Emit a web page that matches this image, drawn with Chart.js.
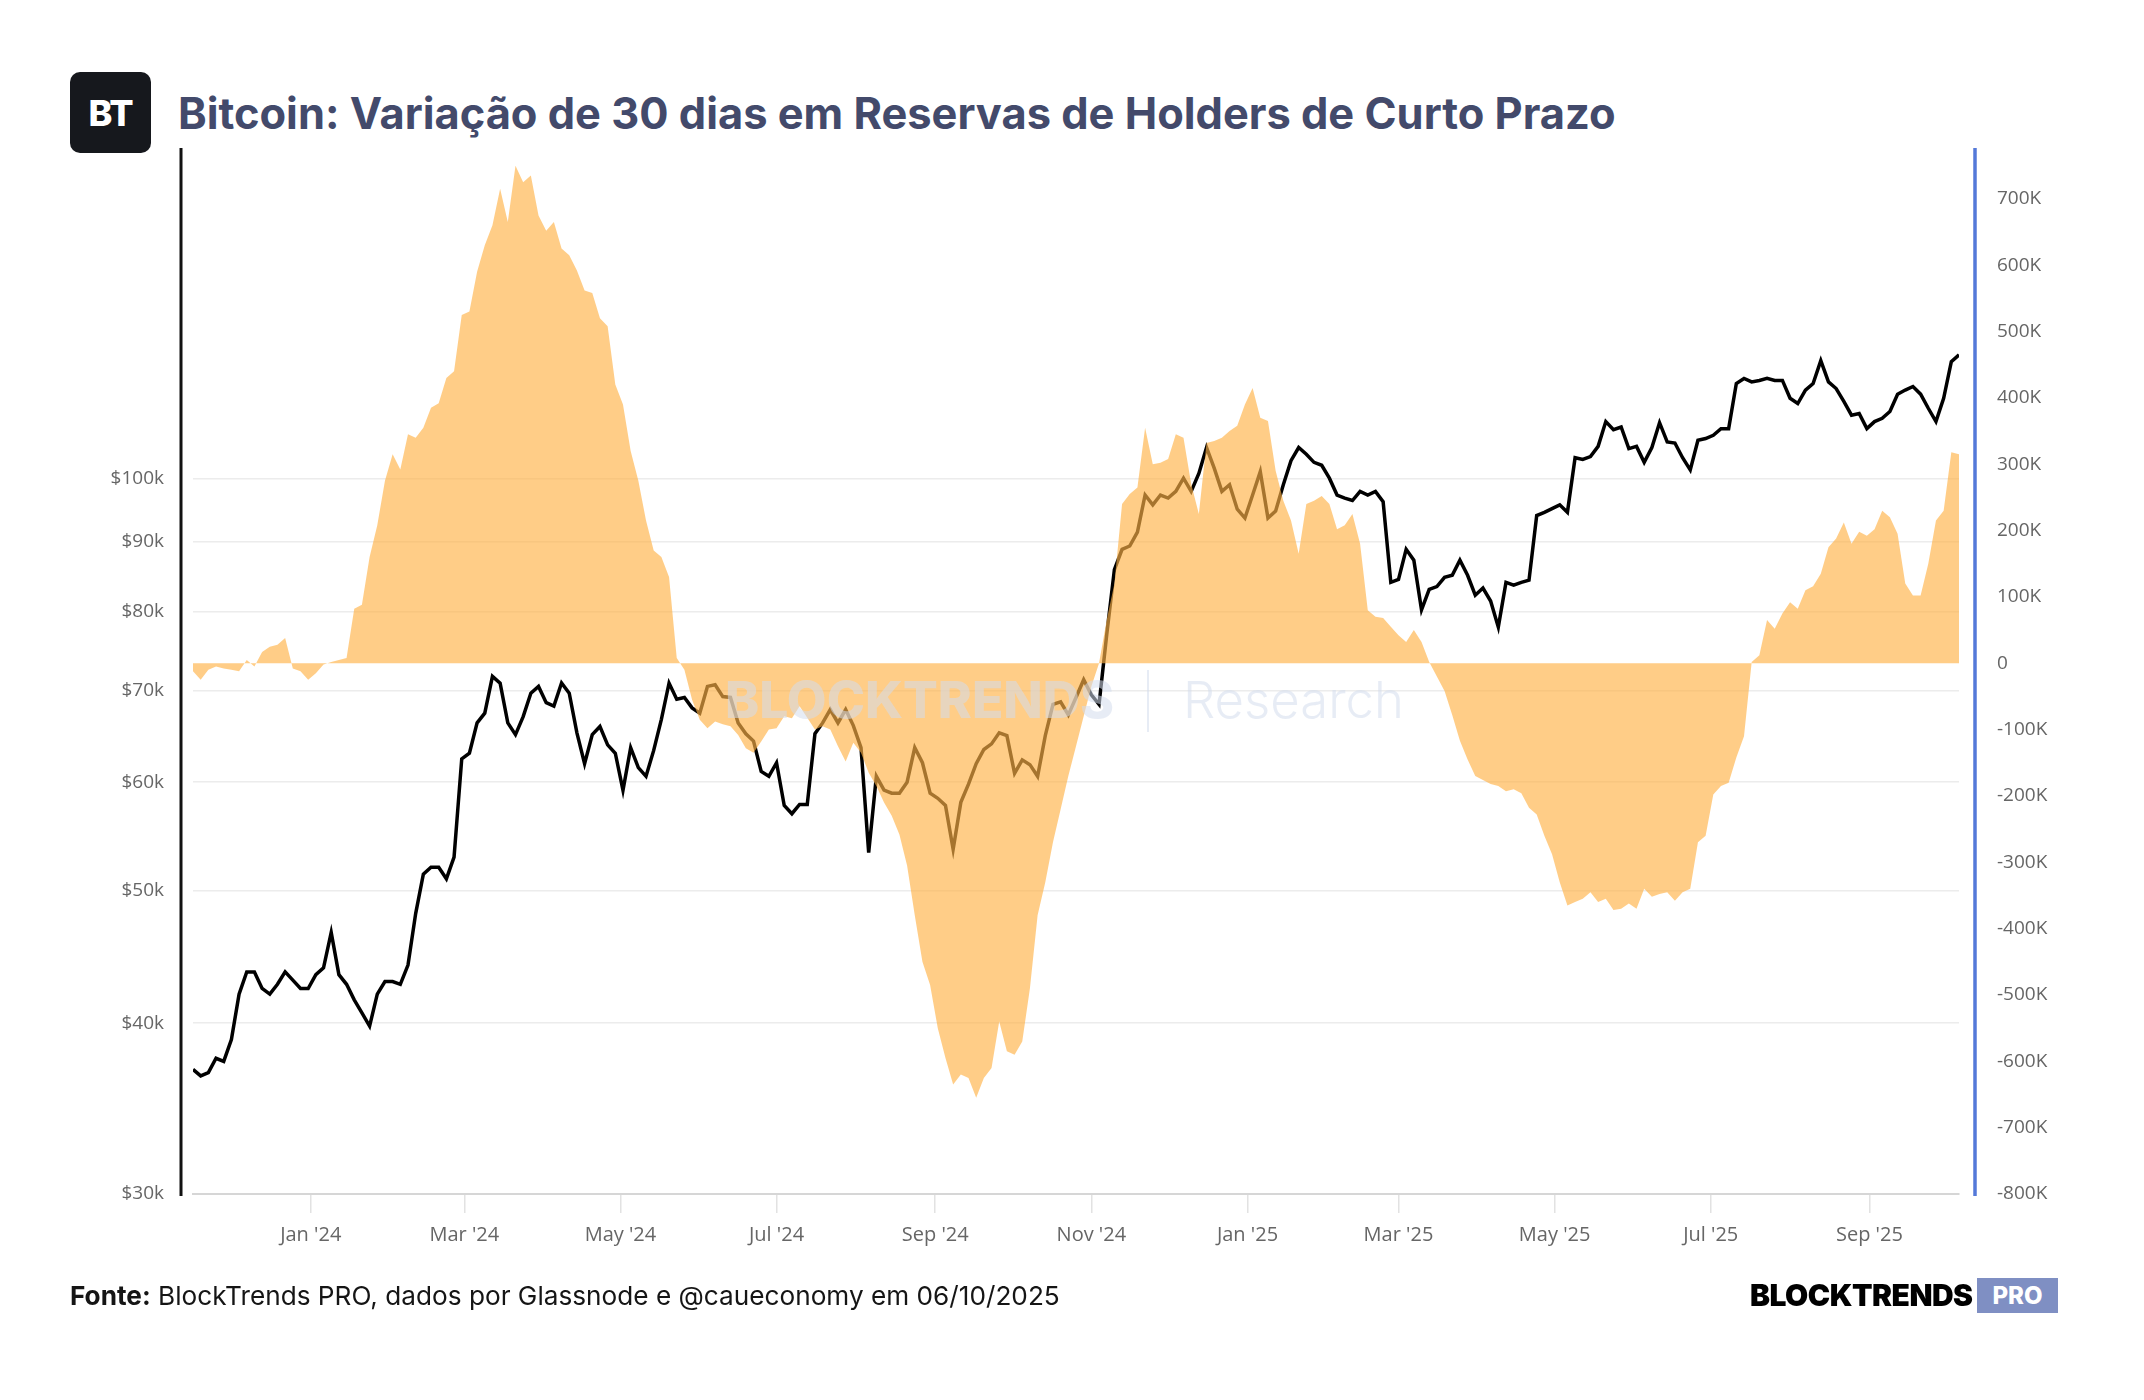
<!DOCTYPE html>
<html lang="pt-BR">
<head>
<meta charset="utf-8">
<title>Bitcoin: Variação de 30 dias em Reservas de Holders de Curto Prazo</title>
<script src="https://cdn.jsdelivr.net/npm/chart.js@4.4.0/dist/chart.umd.min.js"></script>
<style>
  html, body { margin: 0; padding: 0; background: #fff; }
  body { width: 2144px; height: 1400px; position: relative; overflow: hidden; font-family: Inter, "Noto Sans", sans-serif; }
  #grafico { position: absolute; left: 0; top: 0; }
  .logo-bt { position: absolute; left: 70px; top: 72px; width: 81px; height: 81px; border-radius: 10px; background: #16181d; color: #fff; font-weight: 800; font-size: 36px; display: flex; align-items: center; justify-content: center; letter-spacing: -1px; }
  .titulo { position: absolute; left: 178px; top: 113px; transform: translateY(-50%); font-size: 38px; font-weight: 700; color: #434a6b; white-space: nowrap; }
  .fonte { position: absolute; left: 70px; top: 1295px; transform: translateY(-50%); font-size: 26px; color: #151515; white-space: nowrap; }
  .fonte b { font-weight: 700; }
  .marca { position: absolute; left: 1750px; top: 1295px; transform: translateY(-50%); font-size: 27px; font-weight: 900; color: #000; white-space: nowrap; letter-spacing: -0.5px; }
  .pro { position: absolute; left: 1977px; top: 1278px; width: 81px; height: 35px; background: #7f8fc3; color: #fff; font-weight: 800; font-size: 24px; display: flex; align-items: center; justify-content: center; }
</style>
</head>
<body>
<div class="logo-bt">BT</div>
<div class="titulo" id="titulo">Bitcoin: Variação de 30 dias em Reservas de Holders de Curto Prazo</div>
<canvas id="grafico" width="2144" height="1400"></canvas>
<div class="fonte" id="fonte"><b>Fonte:</b> BlockTrends PRO, dados por Glassnode e @caueconomy em 06/10/2025</div>
<div class="marca" id="marca">BLOCKTRENDS</div>
<div class="pro">PRO</div>

<script>
// dados: um ponto a cada 3 dias, desde 16/11/2023
const inicioSerie = '2023-11-16';
const passoDias = 3;

// variacao de 30 dias nas reservas dos holders de curto prazo (mil BTC)
const reservasVar = [
  -12, -25, -10, -5, -8, -10, -12, 5, -5, 17,
  25, 28, 38, -8, -12, -25, -15, -2, 2, 5,
  8, 82, 88, 160, 208, 275, 315, 292, 345, 340,
  355, 385, 392, 430, 440, 525, 530, 590, 630, 660,
  715, 665, 750, 725, 735, 675, 652, 665, 625, 615,
  592, 562, 558, 520, 508, 420, 390, 320, 275, 215,
  170, 160, 130, 8, -10, -55, -85, -98, -88, -92,
  -95, -108, -128, -135, -118, -100, -98, -80, -83, -65,
  -82, -100, -95, -100, -125, -148, -120, -135, -165, -185,
  -210, -230, -258, -305, -380, -450, -485, -550, -595, -635,
  -620, -625, -655, -625, -610, -540, -585, -590, -570, -490,
  -380, -330, -270, -220, -170, -125, -80, -35, 0, 65,
  120, 240, 255, 265, 355, 300, 302, 308, 345, 340,
  270, 225, 332, 335, 340, 350, 358, 390, 415, 370,
  365, 290, 245, 215, 165, 240, 245, 252, 240, 202,
  208, 225, 180, 80, 70, 68, 55, 42, 32, 50,
  32, 2, -20, -42, -78, -117, -145, -170, -176, -182,
  -185, -193, -190, -196, -218, -228, -260, -288, -330, -365,
  -360, -355, -345, -360, -355, -372, -370, -362, -370, -340,
  -352, -348, -345, -358, -345, -340, -270, -260, -198, -185,
  -180, -142, -110, 2, 12, 65, 52, 75, 92, 82,
  110, 116, 135, 175, 188, 212, 180, 198, 192, 202,
  230, 220, 195, 120, 102, 102, 150, 215, 230, 318,
  315
];

// preco do bitcoin (mil US$)
const precoBTC = [
  37.0, 36.6, 36.8, 37.7, 37.5, 38.9, 42.0, 43.6, 43.6, 42.4,
  42.0, 42.7, 43.6, 43.0, 42.4, 42.4, 43.4, 43.9, 46.6, 43.4,
  42.7, 41.6, 40.7, 39.8, 42.0, 42.9, 42.9, 42.7, 44.1, 48.1,
  51.4, 52.0, 52.0, 51.0, 52.9, 62.4, 63.0, 66.3, 67.4, 71.7,
  70.9, 66.3, 65.0, 67.0, 69.7, 70.5, 68.6, 68.2, 70.9, 69.7,
  65.2, 61.9, 65.0, 65.9, 63.9, 63.0, 59.2, 63.6, 61.5, 60.6,
  63.3, 66.7, 70.9, 69.0, 69.2, 68.0, 67.4, 70.5, 70.7, 69.3,
  69.2, 66.3, 65.1, 64.3, 61.1, 60.6, 62.0, 57.7, 56.9, 57.8,
  57.8, 65.1, 66.3, 67.8, 66.3, 67.8, 66.0, 63.6, 53.3, 60.6,
  59.2, 58.9, 58.9, 60.0, 63.6, 62.0, 58.9, 58.4, 57.7, 53.6,
  58.0, 59.8, 61.9, 63.4, 64.0, 65.2, 64.9, 60.9, 62.3, 61.8,
  60.6, 64.9, 68.4, 68.7, 67.2, 69.2, 71.3, 69.5, 68.4, 76.9,
  85.8, 88.8, 89.3, 91.4, 97.3, 95.7, 97.3, 96.8, 97.9, 100.1,
  97.9, 100.9, 105.4, 101.8, 97.9, 99.0, 95.0, 93.6, 97.3, 101.2,
  93.6, 94.7, 99.0, 103.1, 105.4, 104.2, 102.8, 102.3, 100.1, 97.3,
  96.8, 96.4, 97.9, 97.3, 97.9, 96.2, 84.0, 84.4, 88.8, 87.2,
  80.2, 83.0, 83.4, 84.7, 85.0, 87.2, 85.0, 82.2, 83.2, 81.4,
  77.9, 84.0, 83.6, 84.0, 84.3, 94.0, 94.5, 95.1, 95.7, 94.5,
  103.6, 103.3, 103.8, 105.6, 110.1, 108.6, 109.1, 105.2, 105.6, 102.8,
  105.4, 109.9, 106.4, 106.2, 103.6, 101.5, 106.7, 107.0, 107.6, 108.8,
  108.8, 117.4, 118.4, 117.7, 118.0, 118.4, 118.0, 118.0, 114.5, 113.5,
  116.1, 117.4, 122.0, 117.7, 116.4, 113.9, 111.3, 111.6, 108.8, 110.1,
  110.7, 112.0, 115.3, 116.1, 116.8, 115.3, 112.6, 110.1, 114.5, 121.8,
  123.2
];

// eixo x: meses marcados
const mesesTicks = ['2024-01-01', '2024-03-01', '2024-05-01', '2024-07-01', '2024-09-01', '2024-11-01',
  '2025-01-01', '2025-03-01', '2025-05-01', '2025-07-01', '2025-09-01'];
const mesesLabels = ["Jan '24", "Mar '24", "May '24", "Jul '24", "Sep '24", "Nov '24",
  "Jan '25", "Mar '25", "May '25", "Jul '25", "Sep '25"];

const ticksPreco = [30, 40, 50, 60, 70, 80, 90, 100];
const ticksReservas = [-800, -700, -600, -500, -400, -300, -200, -100, 0, 100, 200, 300, 400, 500, 600, 700];

// ------------------------------------------------------------------------
function diaDe(dataStr) {
  const p = dataStr.split('-').map(Number);
  return (Date.UTC(p[0], p[1] - 1, p[2]) - Date.UTC(2024, 0, 1)) / 86400000;
}

function encaixar(el, largura) {
  const w = el.getBoundingClientRect().width;
  const fs = parseFloat(getComputedStyle(el).fontSize);
  el.style.fontSize = (fs * largura / w) + 'px';
}

encaixar(document.getElementById('titulo'), 1438);
encaixar(document.getElementById('fonte'), 990);
encaixar(document.getElementById('marca'), 222);

const dia0 = diaDe(inicioSerie);
const pontosReservas = reservasVar.map((v, i) => ({ x: dia0 + i * passoDias, y: v }));
const pontosPreco = precoBTC.map((v, i) => ({ x: dia0 + i * passoDias, y: v }));

function fonteParaLargura(ctx, texto, peso, familia, largura) {
  ctx.font = peso + ' 100px ' + familia;
  return 100 * largura / ctx.measureText(texto).width;
}

// marca d'agua e linhas dos eixos verticais
const extras = {
  id: 'extras',
  afterDatasetsDraw(chart) {
    const ctx = chart.ctx;
    ctx.save();
    ctx.fillStyle = 'rgba(212, 221, 236, 0.55)';
    ctx.textBaseline = 'middle';
    ctx.textAlign = 'left';
    let fs = fonteParaLargura(ctx, 'BLOCKTRENDS', 800, 'Inter', 389);
    ctx.font = '800 ' + fs + 'px Inter';
    ctx.fillText('BLOCKTRENDS', 725, 703);
    ctx.fillRect(1147, 670, 2, 62);
    fs = fonteParaLargura(ctx, 'Research', 300, 'Inter', 221);
    ctx.font = '300 ' + fs + 'px Inter';
    ctx.fillText('Research', 1183, 703);
    ctx.restore();
  },
  afterDraw(chart) {
    const ctx = chart.ctx;
    const area = chart.chartArea;
    ctx.save();
    ctx.lineWidth = 3;
    ctx.strokeStyle = '#111';
    ctx.beginPath();
    ctx.moveTo(181, area.top);
    ctx.lineTo(181, area.bottom + 2);
    ctx.stroke();
    ctx.lineWidth = 3.5;
    ctx.strokeStyle = '#5479d9';
    ctx.beginPath();
    ctx.moveTo(1975, area.top);
    ctx.lineTo(1975, area.bottom + 2);
    ctx.stroke();
    ctx.restore();
  }
};

const fonteTicks = { family: "'Open Sans', sans-serif", size: 19 };

new Chart(document.getElementById('grafico'), {
  type: 'line',
  data: {
    datasets: [
      {
        // area laranja por cima da linha de preco
        label: 'Variação de 30 dias',
        data: pontosReservas,
        yAxisID: 'yReservas',
        fill: 'origin',
        backgroundColor: 'rgba(255, 178, 70, 0.65)',
        borderWidth: 0,
        pointRadius: 0,
        tension: 0,
        order: 1,
      },
      {
        label: 'Preço BTC',
        data: pontosPreco,
        yAxisID: 'yPreco',
        fill: false,
        borderColor: '#000',
        borderWidth: 3.5,
        pointRadius: 0,
        tension: 0,
        order: 2,
      },
    ],
  },
  options: {
    responsive: false,
    animation: false,
    devicePixelRatio: 1,
    layout: { padding: { top: 148, bottom: 100, left: 0, right: 0 } },
    plugins: {
      legend: { display: false },
      tooltip: { enabled: false },
    },
    scales: {
      x: {
        type: 'linear',
        min: dia0,
        max: dia0 + passoDias * (precoBTC.length - 1),
        afterBuildTicks: (s) => { s.ticks = mesesTicks.map((m) => ({ value: diaDe(m) })); },
        afterFit: (s) => { s.height = 106; },
        ticks: {
          autoSkip: false,
          maxRotation: 0,
          padding: 10,
          color: '#666',
          font: { family: "'Open Sans', sans-serif", size: 20 },
          callback: (v, i) => mesesLabels[i],
        },
        grid: { drawOnChartArea: false, drawTicks: true, tickLength: 19, color: '#e2e2e2', lineWidth: 1.5 },
        border: { display: true, color: '#d6d6d6', width: 2 },
      },
      yPreco: {
        type: 'logarithmic',
        position: 'left',
        min: 30,
        max: 174.5,
        afterBuildTicks: (s) => { s.ticks = ticksPreco.map((v) => ({ value: v })); },
        afterFit: (s) => { s.width = 193; },
        ticks: {
          padding: 29,
          color: '#666',
          font: fonteTicks,
          callback: (v) => '$' + v + 'k',
        },
        grid: { color: '#ececec', lineWidth: 1.5, drawTicks: false },
        border: { display: false },
      },
      yReservas: {
        type: 'linear',
        position: 'right',
        min: -800,
        max: 776.6,
        afterBuildTicks: (s) => { s.ticks = ticksReservas.map((v) => ({ value: v })); },
        afterFit: (s) => { s.width = 185; },
        ticks: {
          padding: 30,
          color: '#666',
          font: fonteTicks,
          callback: (v) => (v === 0 ? '0' : v + 'K'),
        },
        grid: { display: false },
        border: { display: false },
      },
    },
  },
  plugins: [extras],
});
</script>
</body>
</html>
